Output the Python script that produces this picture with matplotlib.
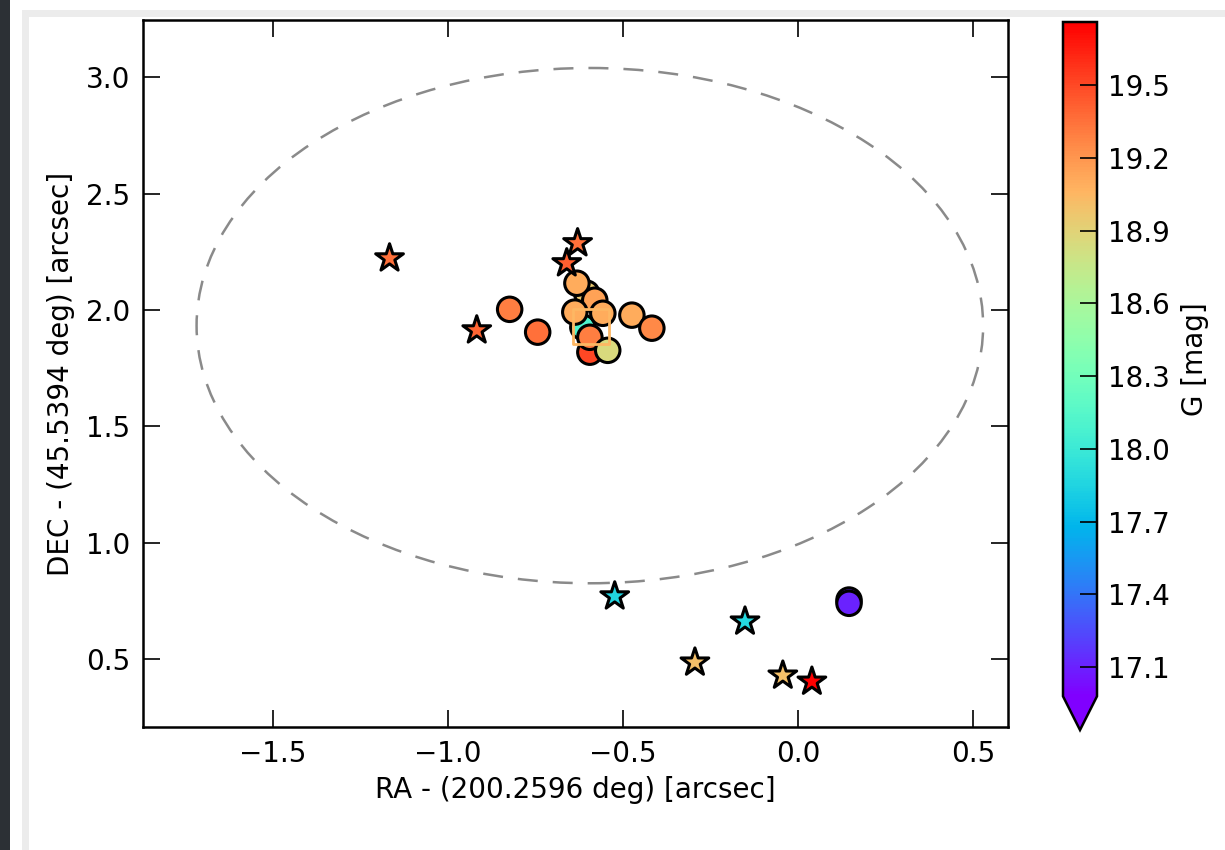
import matplotlib
matplotlib.use('Agg')
import matplotlib.pyplot as plt
import matplotlib.patches as patches
from matplotlib.colors import Normalize

# ── 데이터 ─────────────────────────────────────────
star_ra = [-1.166, -0.917, -0.629, -0.660, -0.523, -0.151, -0.294, -0.043, 0.040]
star_dec = [2.222, 1.913, 2.287, 2.201, 0.771, 0.663, 0.487, 0.431, 0.405]
star_g = [19.35, 19.40, 19.35, 19.42, 17.85, 17.88, 19.00, 19.00, 19.75]

circ_ra = [-0.603, -0.631, -0.580, -0.614, -0.637, -0.557, -0.594, -0.594,
           -0.543, -0.474, -0.417, -0.823, -0.743, 0.146, 0.146]
circ_dec = [2.072, 2.115, 2.042, 1.926, 1.991, 1.986, 1.819, 1.883,
            1.827, 1.978, 1.922, 2.003, 1.905, 0.755, 0.741]
circ_g = [18.95, 19.10, 19.15, 18.10, 19.10, 19.10, 19.50, 19.30,
          18.85, 19.10, 19.25, 19.30, 19.35, 17.10, 17.10]

sq_ra = [-0.591]
sq_dec = [1.930]
sq_g = [19.05]

ell_center = (-0.594, 1.933)
ell_width = 2.246
ell_height = 2.212

g_min, g_max = 16.98, 19.76
cbar_ticks = [17.1, 17.4, 17.7, 18.0, 18.3, 18.6, 18.9, 19.2, 19.5]
x_ticks = [-1.5, -1.0, -0.5, 0.0, 0.5]
y_ticks = [0.5, 1.0, 1.5, 2.0, 2.5, 3.0]

plt.rcParams['font.family'] = ['DejaVu Sans']
fs = 20

fig = plt.figure(figsize=(12.25, 8.5), dpi=100)

# ── 스크린샷 테두리 (왼쪽 어두운 띠, 위/왼쪽 옅은 회색 선) ──
fig.patches.append(patches.Rectangle((0, 0), 10 / 1225, 1, transform=fig.transFigure,
                                     facecolor='#2c3035', edgecolor='none', zorder=0))
fig.patches.append(patches.Rectangle((22 / 1225, 0), 7 / 1225, 1 - 10 / 850,
                                     transform=fig.transFigure, facecolor='#ececec',
                                     edgecolor='none', zorder=0))
fig.patches.append(patches.Rectangle((22 / 1225, 1 - 17 / 850), 1, 7 / 850,
                                     transform=fig.transFigure, facecolor='#ececec',
                                     edgecolor='none', zorder=0))

ax = fig.add_axes([143 / 1225, 1 - 727 / 850, (1008 - 143) / 1225, (727 - 20) / 850])
cax = fig.add_axes([1063 / 1225, 1 - 730 / 850, 34 / 1225, (730 - 22) / 850])

cmap = plt.get_cmap('rainbow')
norm = Normalize(vmin=g_min, vmax=g_max)

# ── 점선 타원 ─────────────────────────────────────────────
ell = patches.Ellipse(ell_center, ell_width, ell_height, fill=False,
                      edgecolor='#8a8a8a', linewidth=1.8, linestyle=(0, (8, 6)), zorder=1)
ax.add_patch(ell)

# ── 원, 별, 사각형 마커 ───────────────────────────────────
sc = ax.scatter(circ_ra, circ_dec, c=circ_g, cmap=cmap, norm=norm, marker='o',
                s=310, edgecolors='black', linewidths=2.2, zorder=3)
ax.scatter(sq_ra, sq_dec, marker='s', s=650, facecolors='none',
           edgecolors=[cmap(norm(v)) for v in sq_g], linewidths=2, zorder=4)
ax.scatter(star_ra, star_dec, c=star_g, cmap=cmap, norm=norm, marker='*',
           s=440, edgecolors='black', linewidths=2.2, zorder=3)

ax.set_xlim(-1.87, 0.6)
ax.set_ylim(0.21, 3.245)
ax.set_xticks(x_ticks)
ax.set_yticks(y_ticks)
ax.tick_params(direction='in', length=12, width=1.2, labelsize=fs,
               top=True, right=True, pad=9)
for sp in ax.spines.values():
    sp.set_linewidth(1.8)
ax.set_xlabel('RA - (200.2596 deg) [arcsec]', fontsize=fs, labelpad=6)
ax.set_ylabel('DEC - (45.5394 deg) [arcsec]', fontsize=fs, labelpad=8)

# ── 컬러바 ───────────────────────────────────────────────
cb = fig.colorbar(sc, cax=cax, extend='min', ticks=cbar_ticks)
cb.ax.tick_params(direction='in', length=12, width=1.2, labelsize=fs, pad=8)
cb.ax.set_yticklabels([f'{t:.1f}' for t in cbar_ticks])
cb.outline.set_linewidth(1.8)
cb.set_label('G [mag]', fontsize=fs, labelpad=8)

plt.savefig('out.png', dpi=100)
plt.close(fig)
